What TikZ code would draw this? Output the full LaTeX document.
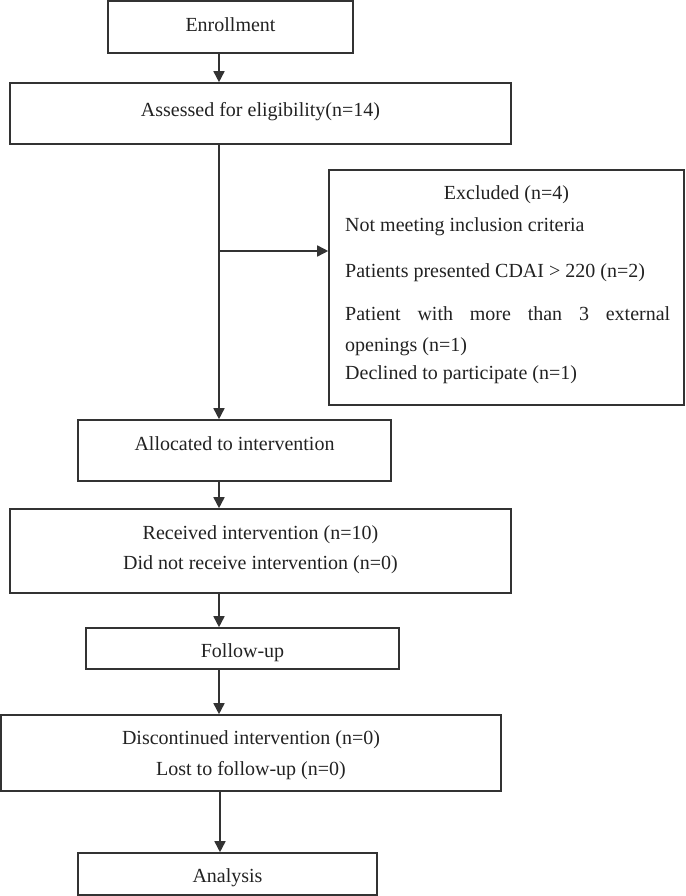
\documentclass[tikz,border=0pt]{standalone}
\usepackage{fontspec}
\setmainfont{Liberation Serif}
\usetikzlibrary{arrows.meta}
\definecolor{ln}{HTML}{333333}
\definecolor{tx}{HTML}{222222}
\begin{document}
\begin{tikzpicture}[x=1pt,y=-1pt,
  font=\fontsize{20}{30}\selectfont,
  box/.style={draw=ln, line width=1.6pt, rectangle, inner sep=0pt, align=center, text=tx},
  txt/.style={inner sep=0pt, text=tx},
  arr/.style={draw=ln, line width=1.6pt, -{Triangle[length=11pt,width=11pt]}}]
\useasboundingbox (0,0) rectangle (685,896);
\node[box, minimum width=245pt, minimum height=52pt, text height=14pt, text depth=4pt] (enr) at (230.5,27) {Enrollment};
\node[box, minimum width=501pt, minimum height=61pt, text height=14pt, text depth=7pt] (ass) at (260.5,113.5) {Assessed for eligibility(n=14)};
\node[box, minimum width=355pt, minimum height=235pt] (exc) at (506.5,287.5) {};
\node[box, minimum width=313pt, minimum height=61pt, text height=14pt, text depth=15pt] (alo) at (234.5,450.5) {Allocated to intervention};
\node[box, minimum width=501pt, minimum height=84pt, text height=44pt, text depth=8pt] (rec) at (260.5,551) {Received intervention (n=10)\\Did not receive intervention (n=0)};
\node[box, minimum width=313pt, minimum height=41pt, text height=22pt, text depth=5pt] (fol) at (242.5,648.5) {Follow-up};
\node[box, minimum width=500pt, minimum height=76pt, text height=45pt, text depth=0pt] (dis) at (251,753) {Discontinued intervention (n=0)\\[1pt]Lost to follow-up (n=0)};
\node[box, minimum width=299pt, minimum height=42pt, text height=21pt, text depth=5pt] (ana) at (227.5,874) {Analysis};

\node[txt, anchor=base] (ex0) at (506.5,199) {Excluded (n=4)};
\node[txt, anchor=base west] (ex1) at (345,231) {Not meeting inclusion criteria};
\node[txt, anchor=base west] (ex2) at (345,277) {Patients presented CDAI > 220 (n=2)};
\node[txt, anchor=base west] (ex3) at (345,320) {\makebox[325pt][s]{Patient with more than 3 external}};
\node[txt, anchor=base west] (ex4) at (345,351) {openings (n=1)};
\node[txt, anchor=base west] (ex5) at (345,379) {Declined to participate (n=1)};

\coordinate (spine) at (219,0);
\coordinate (spine2) at (220,0);
\coordinate (br) at (219,251);
\draw[arr] (enr.south -| spine) -- (ass.north -| spine);
\draw[arr] (ass.south -| spine) -- (alo.north -| spine);
\draw[arr] (br) -- (br -| exc.west);
\draw[arr] (alo.south -| spine) -- (rec.north -| spine);
\draw[arr] (rec.south -| spine) -- (fol.north -| spine);
\draw[arr] (fol.south -| spine) -- (dis.north -| spine);
\draw[arr] (dis.south -| spine2) -- (ana.north -| spine2);
\end{tikzpicture}
\end{document}
